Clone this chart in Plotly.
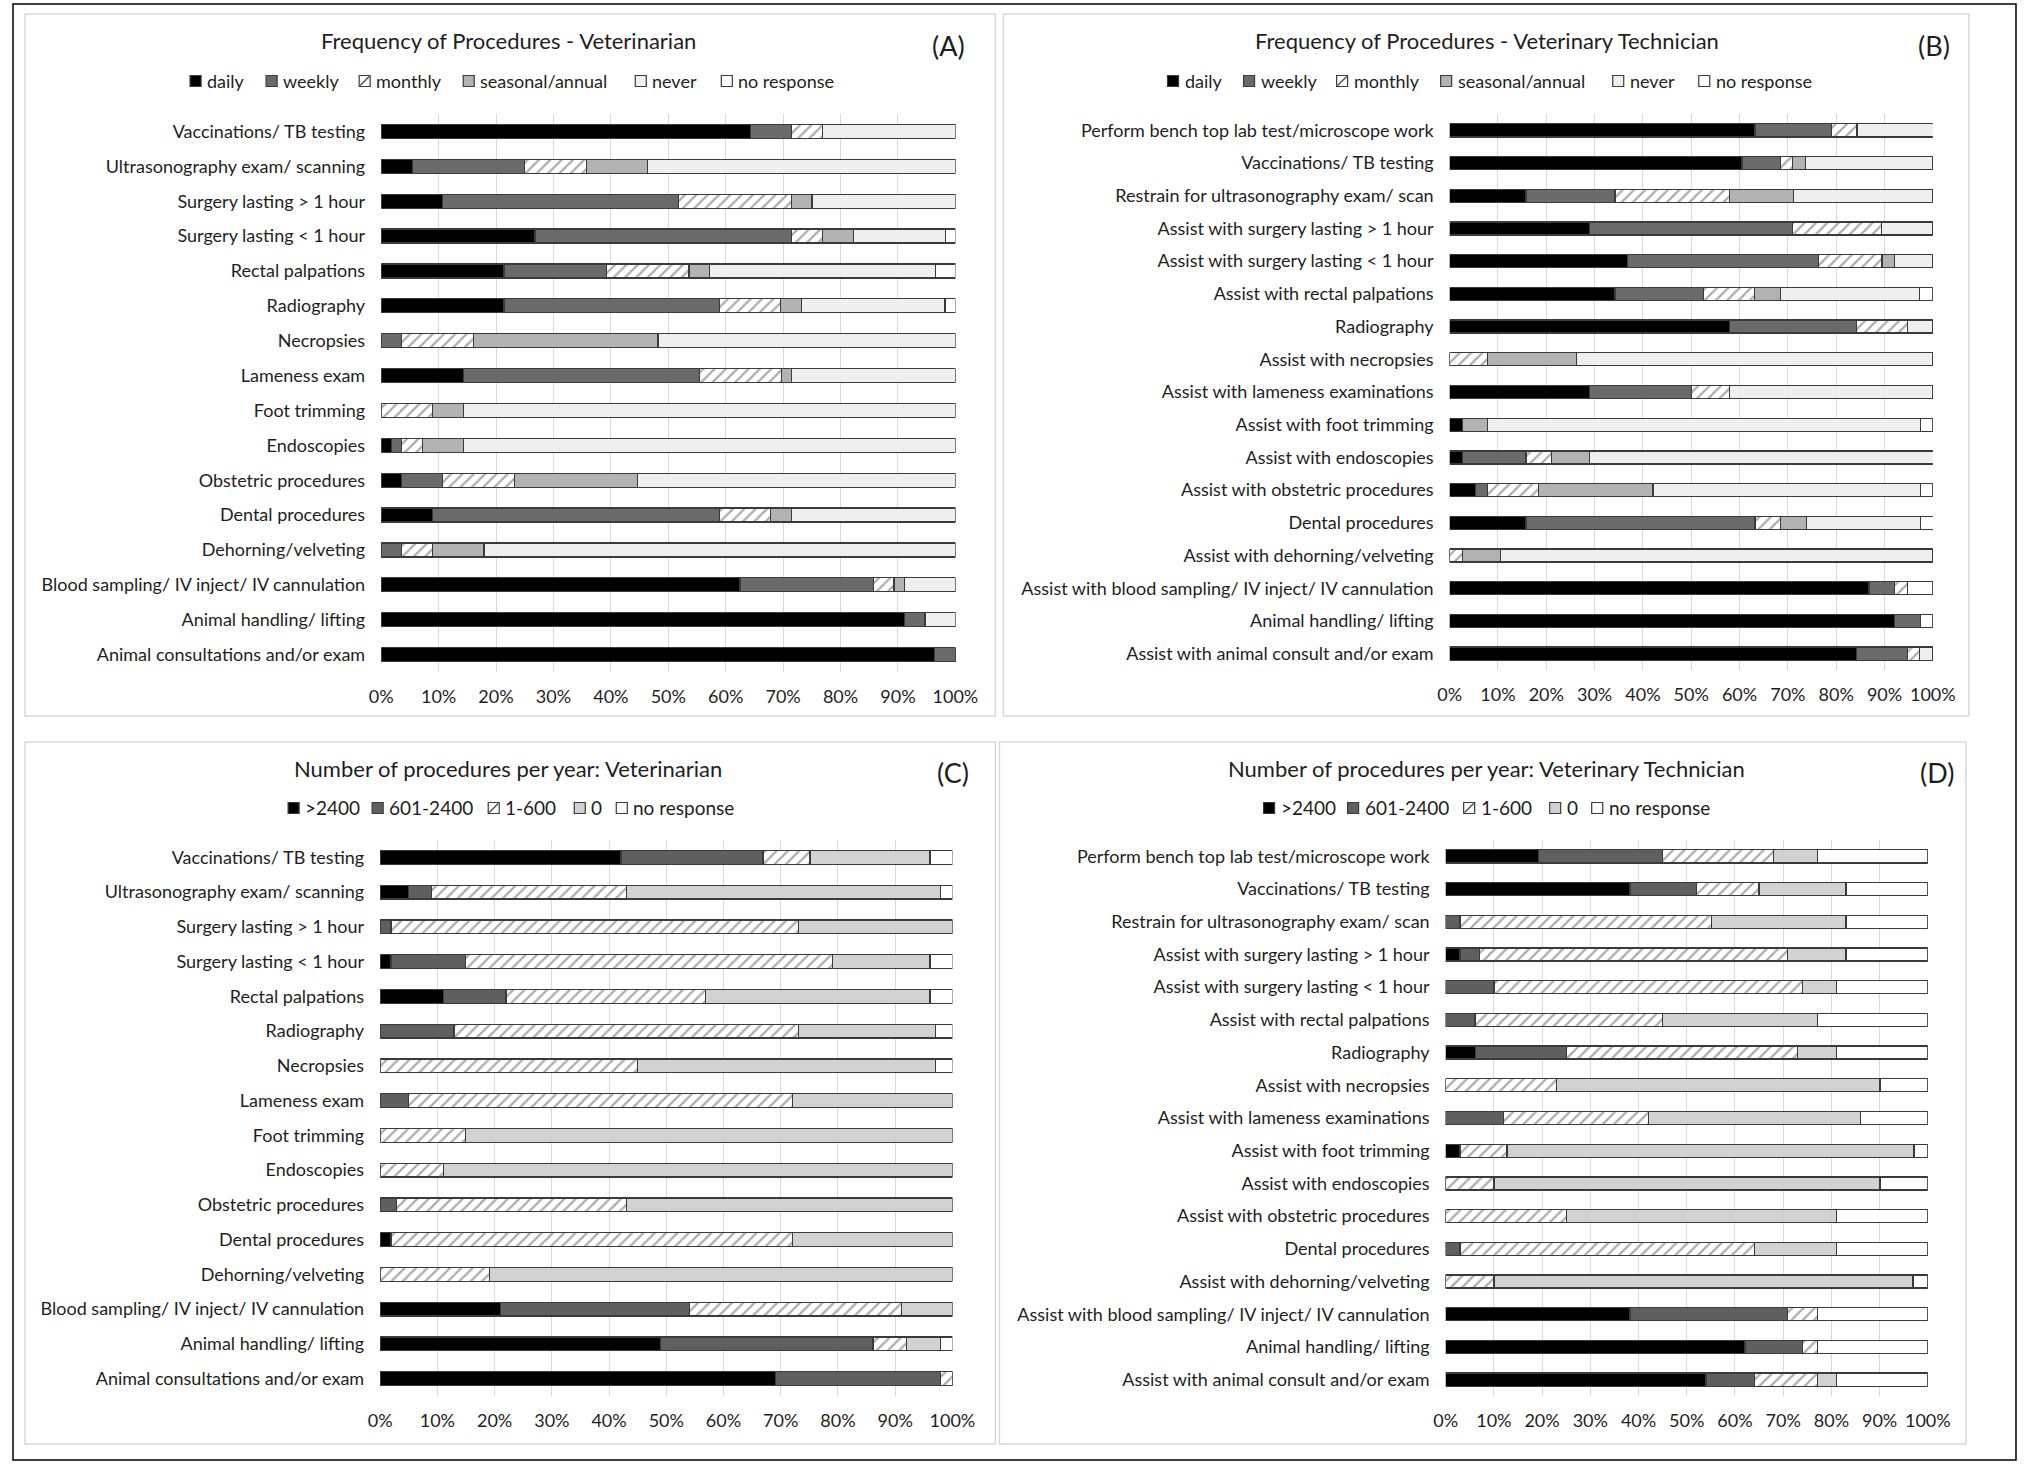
import plotly.graph_objects as go

W, H = 2040, 1464

# ---------------- DATA ----------------
vet_freq_cats = ["Vaccinations/ TB testing", "Ultrasonography exam/ scanning", "Surgery lasting > 1 hour",
                 "Surgery lasting < 1 hour", "Rectal palpations", "Radiography", "Necropsies", "Lameness exam",
                 "Foot trimming", "Endoscopies", "Obstetric procedures", "Dental procedures", "Dehorning/velveting",
                 "Blood sampling/ IV inject/ IV cannulation", "Animal handling/ lifting", "Animal consultations and/or exam"]
tech_cats = ["Perform bench top lab test/microscope work", "Vaccinations/ TB testing",
             "Restrain for ultrasonography exam/ scan", "Assist with surgery lasting > 1 hour",
             "Assist with surgery lasting < 1 hour", "Assist with rectal palpations", "Radiography",
             "Assist with necropsies", "Assist with lameness examinations", "Assist with foot trimming",
             "Assist with endoscopies", "Assist with obstetric procedures", "Dental procedures",
             "Assist with dehorning/velveting", "Assist with blood sampling/ IV inject/ IV cannulation",
             "Animal handling/ lifting", "Assist with animal consult and/or exam"]

freq_names = ["daily", "weekly", "monthly", "seasonal/annual", "never", "no response"]
num_names = [">2400", "601-2400", "1-600", "0", "no response"]

# Panel A (veterinarian frequency), % per category
A_daily    = [64.3, 5.4, 10.7, 26.8, 21.4, 21.4, 0, 14.3, 0, 1.8, 3.6, 8.9, 0, 62.5, 91.1, 96.4]
A_weekly   = [7.1, 19.6, 41.1, 44.6, 17.9, 37.5, 3.6, 41.1, 0, 1.8, 7.1, 50.0, 3.6, 23.2, 3.6, 3.6]
A_monthly  = [5.4, 10.7, 19.6, 5.4, 14.3, 10.7, 12.5, 14.3, 8.9, 3.6, 12.5, 8.9, 5.4, 3.6, 0, 0]
A_seasonal = [0, 10.7, 3.6, 5.4, 3.6, 3.6, 32.1, 1.8, 5.4, 7.1, 21.4, 3.6, 8.9, 1.8, 0, 0]
A_never    = [23.2, 53.6, 25.0, 16.1, 39.3, 25.0, 51.8, 28.6, 85.7, 85.7, 55.4, 28.6, 82.1, 8.9, 5.4, 0]
A_noresp   = [0, 0, 0, 1.8, 3.6, 1.8, 0, 0, 0, 0, 0, 0, 0, 0, 0, 0]

# Panel B (technician frequency)
B_daily    = [63.2, 60.5, 15.8, 28.9, 36.8, 34.2, 57.9, 0, 28.9, 2.6, 2.6, 5.3, 15.8, 0, 86.8, 92.1, 84.2]
B_weekly   = [15.8, 7.9, 18.4, 42.1, 39.5, 18.4, 26.3, 0, 21.1, 0, 13.2, 2.6, 47.4, 0, 5.3, 5.3, 10.5]
B_monthly  = [5.3, 2.6, 23.7, 18.4, 13.2, 10.5, 10.5, 7.9, 7.9, 0, 5.3, 10.5, 5.3, 2.6, 2.6, 0, 2.6]
B_seasonal = [0, 2.6, 13.2, 0, 2.6, 5.3, 0, 18.4, 0, 5.3, 7.9, 23.7, 5.3, 7.9, 0, 0, 0]
B_never    = [15.8, 26.3, 28.9, 10.5, 7.9, 28.9, 5.3, 73.7, 42.1, 89.5, 71.1, 55.3, 23.7, 89.5, 0, 0, 2.6]
B_noresp   = [0, 0, 0, 0, 0, 2.6, 0, 0, 0, 2.6, 0, 2.6, 2.6, 0, 5.3, 2.6, 0]

# Panel C (veterinarian number per year)
C_gt2400   = [42.1, 5.0, 0, 1.9, 11.1, 0, 0, 0, 0, 0, 0, 1.9, 0, 21.0, 49.0, 69.1]
C_601_2400 = [24.8, 4.0, 1.9, 13.0, 10.9, 12.9, 0, 4.9, 0, 0, 2.9, 0, 0, 33.0, 37.1, 28.8]
C_1_600    = [8.2, 34.0, 71.2, 64.1, 34.9, 60.2, 45.0, 67.1, 14.9, 11.1, 40.1, 70.1, 19.1, 37.1, 5.9, 2.1]
C_zero     = [21.0, 54.9, 26.9, 17.1, 39.2, 23.9, 52.0, 28.0, 85.1, 88.9, 57.0, 28.0, 80.9, 8.9, 5.9, 0]
C_noresp   = [3.9, 2.1, 0, 3.9, 3.9, 3.0, 3.0, 0, 0, 0, 0, 0, 0, 0, 2.1, 0]

# Panel D (technician number per year)
D_gt2400   = [19.2, 38.2, 0, 3.0, 0, 0, 6.2, 0, 0, 3.0, 0, 0, 0, 0, 38.2, 62.1, 54.0]
D_601_2400 = [25.7, 13.8, 3.0, 4.0, 10.0, 6.1, 18.9, 0, 12.0, 0, 0, 0, 3.0, 0, 32.7, 11.9, 10.1]
D_1_600    = [23.1, 13.0, 52.1, 63.9, 64.0, 38.8, 47.8, 23.0, 30.1, 9.7, 10.0, 25.1, 61.1, 10.0, 6.2, 3.1, 13.0]
D_zero     = [9.1, 18.0, 27.9, 12.1, 7.0, 32.2, 8.1, 67.1, 43.9, 84.4, 80.1, 55.9, 16.9, 86.9, 0, 0, 3.9]
D_noresp   = [22.9, 17.0, 17.0, 17.0, 19.0, 22.9, 19.0, 9.9, 14.0, 2.9, 9.9, 19.0, 19.0, 3.1, 22.9, 22.9, 19.0]

titles = ["Frequency of Procedures - Veterinarian", "Frequency of Procedures - Veterinary Technician",
          "Number of procedures per year: Veterinarian", "Number of procedures per year: Veterinary Technician"]
panel_tags = ["(A)", "(B)", "(C)", "(D)"]
x_ticks = [0, 10, 20, 30, 40, 50, 60, 70, 80, 90, 100]

# ---------------- STYLE ----------------
FONT = "Lato, 'Open Sans', sans-serif"
TXT = "#1e1e1e"
OUT = "#3a3a3a"
freq_style = [dict(color="#000000"), dict(color="#6a6a6a"), dict(color="white", hatch=True),
              dict(color="#b2b2b2"), dict(color="#efefef"), dict(color="#ffffff")]
num_style = [dict(color="#000000"), dict(color="#5f5f5f"), dict(color="white", hatch=True),
             dict(color="#d2d2d2"), dict(color="#ffffff")]
freq_leg_offsets = [0, 76, 169, 273, 445, 531]
num_leg_offsets = [0, 84, 200, 286, 328]

# the photographed page comes out slightly narrowed/shifted horizontally; compensate
X_SHIFT, X_SCALE = 12.0, 0.9824


def px_x(x):
    v = ((x - X_SHIFT) / X_SCALE) / W
    return min(max(v, 0.0005), 0.9995)


def px_y(y):
    return 1 - y / H


fig = go.Figure()

panels = [
    dict(cats=vet_freq_cats, series=[A_daily, A_weekly, A_monthly, A_seasonal, A_never, A_noresp],
         names=freq_names, style=freq_style, x=(381, 955), y=(114, 672), legend_y=81,
         title_xy=(508, 40), tag_xy=(948, 46), legend_x=190, offs=freq_leg_offsets, lfs=18),
    dict(cats=tech_cats, series=[B_daily, B_weekly, B_monthly, B_seasonal, B_never, B_noresp],
         names=freq_names, style=freq_style, x=(1449, 1932), y=(114, 670), legend_y=81,
         title_xy=(1486, 40), tag_xy=(1933, 46), legend_x=1167, offs=freq_leg_offsets, lfs=18),
    dict(cats=vet_freq_cats, series=[C_gt2400, C_601_2400, C_1_600, C_zero, C_noresp],
         names=num_names, style=num_style, x=(380, 952), y=(840, 1396), legend_y=808,
         title_xy=(508, 768), tag_xy=(953, 772), legend_x=288, offs=num_leg_offsets, lfs=19),
    dict(cats=tech_cats, series=[D_gt2400, D_601_2400, D_1_600, D_zero, D_noresp],
         names=num_names, style=num_style, x=(1445, 1927), y=(840, 1396), legend_y=808,
         title_xy=(1486, 768), tag_xy=(1936, 773), legend_x=1263, offs=num_leg_offsets, lfs=19),
]

layout = dict(width=W, height=H, autosize=False, margin=dict(l=0, r=0, t=0, b=0), paper_bgcolor="white",
              plot_bgcolor="white", barmode="stack", bargap=0.6, font=dict(family=FONT, color=TXT, size=18),
              showlegend=False)
annotations = []
shapes = []

for i, p in enumerate(panels):
    k = i + 1
    xa = "x" if k == 1 else f"x{k}"
    ya = "y" if k == 1 else f"y{k}"
    for name, vals, st in zip(p["names"], p["series"], p["style"]):
        marker = dict(color=st["color"], line=dict(color=OUT, width=1.3))
        if st.get("hatch"):
            marker["pattern"] = dict(shape="/", fgcolor="#5a5a5a", bgcolor="white", size=8, solidity=0.28)
        fig.add_trace(go.Bar(y=p["cats"], x=vals, orientation="h", name=name, marker=marker,
                             xaxis=xa, yaxis=ya))
    xkey = "xaxis" if k == 1 else f"xaxis{k}"
    ykey = "yaxis" if k == 1 else f"yaxis{k}"
    layout[xkey] = dict(domain=[px_x(p["x"][0]), px_x(p["x"][1])], range=[0, 100], anchor=ya,
                        tickvals=x_ticks, ticktext=[f"{t}%" for t in x_ticks], showgrid=True,
                        gridcolor="#d9d9d9", gridwidth=1, zeroline=False, showline=False,
                        ticks="", tickfont=dict(size=18, color=TXT), ticklabelstandoff=12, fixedrange=True)
    layout[ykey] = dict(domain=[px_y(p["y"][1]), px_y(p["y"][0])], anchor=xa, type="category",
                        categoryorder="array", categoryarray=p["cats"], autorange="reversed",
                        showgrid=False, zeroline=False, showline=False, ticks="",
                        tickfont=dict(size=18, color=TXT), ticklabelstandoff=15)
    annotations.append(dict(text=titles[i], x=px_x(p["title_xy"][0]), y=px_y(p["title_xy"][1]),
                            xref="paper", yref="paper", showarrow=False, xanchor="center", yanchor="middle",
                            font=dict(size=22, color=TXT)))
    annotations.append(dict(text=panel_tags[i], x=px_x(p["tag_xy"][0]), y=px_y(p["tag_xy"][1]),
                            xref="paper", yref="paper", showarrow=False, xanchor="center", yanchor="middle",
                            font=dict(size=27, color=TXT)))
    # manual legend
    ly = p["legend_y"]
    for name, st, off in zip(p["names"], p["style"], p["offs"]):
        sx = p["legend_x"] + off
        s = 11
        shapes.append(dict(type="rect", xref="paper", yref="paper", x0=px_x(sx), x1=px_x(sx + s),
                           y0=px_y(ly + s / 2), y1=px_y(ly - s / 2), fillcolor=st["color"],
                           line=dict(color=OUT, width=1.2)))
        if st.get("hatch"):
            shapes.append(dict(type="line", xref="paper", yref="paper", x0=px_x(sx + 1), x1=px_x(sx + s - 1),
                               y0=px_y(ly + s / 2 - 1), y1=px_y(ly - s / 2 + 1),
                               line=dict(color="#4a4a4a", width=1.3)))
        annotations.append(dict(text=name, x=px_x(sx + s + 4), y=px_y(ly), xref="paper", yref="paper",
                                showarrow=False, xanchor="left", yanchor="middle",
                                font=dict(size=p["lfs"], color=TXT)))

# panel frames
for (x0, y0, x1, y1) in [(25, 14, 995, 716), (1003, 14, 1968, 716), (25, 742, 995, 1444), (999, 742, 1965, 1444)]:
    shapes.append(dict(type="rect", xref="paper", yref="paper", x0=px_x(x0), x1=px_x(x1), y0=px_y(y1),
                       y1=px_y(y0), line=dict(color="#d9d9d9", width=1.5), fillcolor="rgba(0,0,0,0)"))
# outer frame
shapes.append(dict(type="rect", xref="paper", yref="paper", x0=px_x(4), x1=px_x(2036), y0=px_y(1460),
                   y1=px_y(4), line=dict(color="#000000", width=1.5), fillcolor="rgba(0,0,0,0)"))

layout["annotations"] = annotations
layout["shapes"] = shapes
fig.update_layout(**layout)
fig.write_html("out.html", config={"displayModeBar": False, "responsive": False},
               post_script="document.documentElement.style.overflow='hidden';"
                           "document.body.style.margin='0px';document.body.style.overflow='hidden';")
